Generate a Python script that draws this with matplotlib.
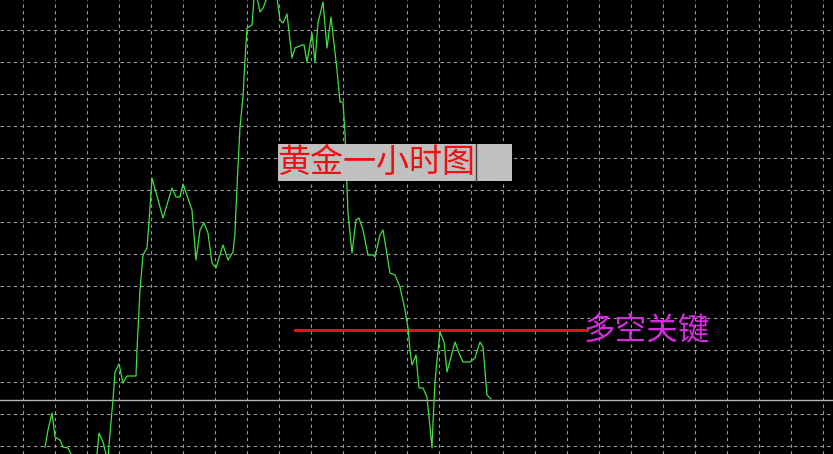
import matplotlib.pyplot as plt
from matplotlib.patches import Rectangle
import numpy as np

plt.rcParams['font.family'] = ['Noto Sans CJK SC', 'DejaVu Sans']

# green price line (x = bar position, y = height above bottom)
bar_x = [45, 48, 52, 55, 60, 63, 68, 71, 84, 97, 99, 103, 106, 108, 110, 113, 115, 119, 123, 127,
         136, 137, 140, 143, 147, 149, 152, 163, 172, 176, 180, 183, 192, 196, 200, 204, 208, 212,
         216, 223, 228, 233, 235, 237, 240, 243, 245, 247, 252, 254, 257, 260, 263, 267, 272, 277,
         280, 283, 287, 292, 295, 302, 304, 307, 312, 315, 318, 323, 327, 331, 337, 340, 343, 345,
         347, 348, 352, 356, 359, 363, 368, 373, 375, 380, 383, 390, 395, 400, 405, 408, 410, 412,
         416, 419, 423, 427, 430, 432, 433, 435, 437, 440, 444, 447, 451, 455, 459, 463, 470, 475,
         480, 483, 487, 491]
price = [7, 24, 41, 17, 14, 7, 6, 0, -12, 0, 21, 12, 0, -4, 21, 54, 82, 90, 71, 78,
         78, 104, 164, 199, 206, 232, 276, 236, 266, 257, 257, 270, 244, 194, 224, 231, 221, 191,
         186, 209, 194, 202, 221, 267, 327, 357, 394, 426, 429, 456, 456, 442, 446, 456, 470, 456,
         434, 431, 440, 396, 406, 409, 409, 392, 421, 392, 431, 452, 406, 437, 384, 352, 352, 321,
         267, 241, 201, 234, 236, 224, 199, 199, 197, 219, 224, 181, 179, 167, 144, 126, 104, 89,
         99, 66, 66, 57, 27, 6, 31, 72, 94, 122, 112, 82, 97, 112, 101, 92, 92, 96,
         112, 107, 59, 55]

key_level = 124      # red "多空关键" line
key_start, key_end = 295, 587
last_price = 54      # thin grey line

fig = plt.figure(figsize=(8.33, 4.54), dpi=100)
fig.patch.set_facecolor('black')
ax = fig.add_axes([0, 0, 1, 1])
ax.set_facecolor('black')
ax.set_xlim(0, 833)
ax.set_ylim(0, 454)

ax.set_xticks(np.arange(23.3, 833, 32))
ax.set_yticks(np.arange(8, 454, 32))
ax.grid(True, color='#9a9a9a', linestyle=(0, (3, 3)), linewidth=0.8)
ax.tick_params(length=0, labelbottom=False, labelleft=False)
for s in ax.spines.values():
    s.set_visible(False)

ax.axhline(last_price, color='#b4b4b4', linewidth=1.0)
ax.plot([key_start, key_end], [key_level, key_level], color='#d81818', linewidth=2.2)
ax.plot(bar_x, price, color='#40e040', linewidth=0.9)

ax.text(584, key_level, '多空关键', color='#d62ae0', fontsize=22.8, va='center', ha='left')

ax.add_patch(Rectangle((278, 273), 234, 37, facecolor='#c0c0c0', edgecolor='none', zorder=4))
ax.plot([476, 476], [273, 310], color='#404040', linewidth=1.0, zorder=5)
ax.text(277, 291.5, '黄金一小时图', color='#ee1111', fontsize=23.8, va='center', ha='left', zorder=6)

plt.savefig('out.png', dpi=100, facecolor='black')
